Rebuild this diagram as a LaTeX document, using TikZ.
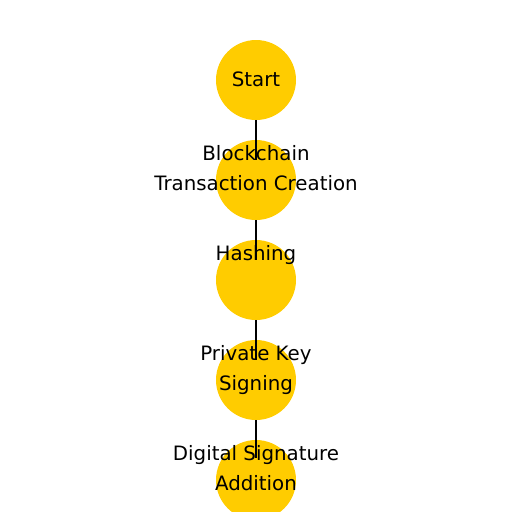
\documentclass[tikz,border=0pt]{standalone}
\usepackage{fontspec}
\setmainfont{DejaVu Sans}
\definecolor{gold}{HTML}{FFCC00}
\tikzset{
  stepcirc/.style={circle, fill=gold, draw=none, minimum size=80pt, inner sep=0pt},
  lbl/.style={anchor=base, inner sep=0pt, font=\fontsize{19.8}{24}\selectfont, text=black},
  link/.style={draw=black, line width=1.6pt}
}
\begin{document}
\begin{tikzpicture}[x=1pt,y=-1pt]
\useasboundingbox (0,0) rectangle (512,512);
\node[stepcirc] (n1) at (256,80) {};
\node[stepcirc] (n2) at (256,180) {};
\node[stepcirc] (n3) at (256,280) {};
\node[stepcirc] (n4) at (256,380) {};
\node[stepcirc] (n5) at (256,480) {};
\coordinate (e2) at (256,160);
\coordinate (e3) at (256,260);
\coordinate (e4) at (256,360);
\coordinate (e5) at (256,458);
\draw[link] (n1.south) -- (e2);
\draw[link] (n2.south) -- (e3);
\draw[link] (n3.south) -- (e4);
\draw[link] (n4.south) -- (e5);
\node[lbl] (t1) at (256,86) {Start};
\node[lbl] (t2a) at (256,160) {Blockchain};
\node[lbl] (t2b) at (256,190) {Transaction Creation};
\node[lbl] (t3) at (256,260) {Hashing};
\node[lbl] (t4a) at (256,360) {Private Key};
\node[lbl] (t4b) at (256,390) {Signing};
\node[lbl] (t5a) at (256,460) {Digital Signature};
\node[lbl] (t5b) at (256,490) {Addition};
\end{tikzpicture}
\end{document}
